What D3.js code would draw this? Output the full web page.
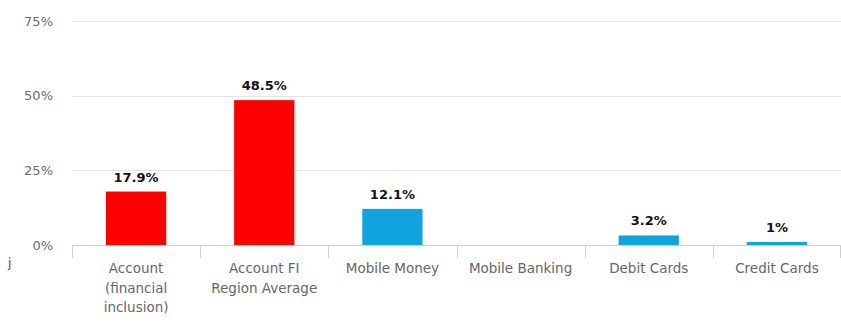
<!DOCTYPE html>
<html>
<head>
<meta charset="utf-8">
<script src="https://cdn.jsdelivr.net/npm/d3@7"></script>
<style>
  html, body { margin: 0; padding: 0; background: #fff; }
  svg { display: block; }
</style>
</head>
<body>
<svg id="chart" width="841" height="327"></svg>
<script>
// Account ownership and usage shares
const categories = [
  ["Account", "(financial", "inclusion)"],
  ["Account FI", "Region Average"],
  ["Mobile Money"],
  ["Mobile Banking"],
  ["Debit Cards"],
  ["Credit Cards"]
];
const values = [17.9, 48.5, 12.1, null, 3.2, 1];
const valueLabels = ["17.9%", "48.5%", "12.1%", "", "3.2%", "1%"];
const barColors = ["#ff0000", "#ff0000", "#10a3de", "#10a3de", "#10a3de", "#10a3de"];
const yTicks = [0, 25, 50, 75];
const yTickLabels = ["0%", "25%", "50%", "75%"];

const svg = d3.select("#chart");
const margin = { left: 72, right: 0, top: 21, bottom: 82 };
const W = 841, H = 327;
const FONT = "DejaVu Sans, sans-serif";

const x = d3.scaleBand()
  .domain(d3.range(categories.length))
  .range([margin.left, W - margin.right])
  .paddingInner(0.53).paddingOuter(0.265);

const y = d3.scaleLinear().domain([0, 75]).range([245, margin.top]);

// horizontal grid lines
svg.append("g").selectAll("line").data(yTicks.filter(d => d > 0)).join("line")
  .attr("x1", margin.left).attr("x2", W)
  .attr("y1", d => Math.round(y(d)) + 0.5).attr("y2", d => Math.round(y(d)) + 0.5)
  .attr("stroke", "#e4e4e4").attr("stroke-width", 1);

// y labels
svg.append("g").selectAll("text").data(yTicks).join("text")
  .attr("x", 53).attr("y", d => y(d) + 4.5)
  .attr("text-anchor", "end")
  .attr("font-family", FONT).attr("font-size", 13)
  .attr("fill", "#6b6b6b")
  .text((d, i) => yTickLabels[i]);

// bars
svg.append("g").selectAll("rect").data(values.map((v, i) => ({ v, i })).filter(d => d.v != null)).join("rect")
  .attr("x", d => x(d.i))
  .attr("y", d => y(d.v))
  .attr("width", x.bandwidth())
  .attr("height", d => y(0) - y(d.v))
  .attr("fill", d => barColors[d.i]);

// x axis line and category boundary ticks
const bounds = d3.range(categories.length + 1).map(k => margin.left + k * (W - margin.left) / categories.length);
svg.append("line")
  .attr("x1", margin.left).attr("x2", W)
  .attr("y1", 245.5).attr("y2", 245.5)
  .attr("stroke", "#cfcfcf");
svg.append("g").selectAll("line").data(bounds).join("line")
  .attr("x1", d => Math.min(Math.round(d), W - 1) + 0.5).attr("x2", d => Math.min(Math.round(d), W - 1) + 0.5)
  .attr("y1", 245).attr("y2", 258)
  .attr("stroke", "#cfcfcf");

// category labels
const catG = svg.append("g").selectAll("text").data(categories).join("text")
  .attr("text-anchor", "middle")
  .attr("font-family", FONT).attr("font-size", 13.5)
  .attr("fill", "#666");
catG.each(function (lines, i) {
  d3.select(this).selectAll("tspan").data(lines).join("tspan")
    .attr("x", x(i) + x.bandwidth() / 2)
    .attr("y", (d, j) => 273 + j * 19.5)
    .text(d => d);
});

// value labels
svg.append("g").selectAll("text").data(values.map((v, i) => ({ v, i })).filter(d => d.v != null)).join("text")
  .attr("x", d => x(d.i) + x.bandwidth() / 2)
  .attr("y", d => y(d.v) - 10)
  .attr("text-anchor", "middle")
  .attr("font-family", FONT).attr("font-size", 13).attr("font-weight", "bold")
  .attr("fill", "#111")
  .text(d => valueLabels[d.i]);

// small mark at the left edge
svg.append("text").attr("x", 8).attr("y", 267)
  .attr("font-family", FONT).attr("font-size", 12).attr("fill", "#444")
  .text("j");
</script>
</body>
</html>
